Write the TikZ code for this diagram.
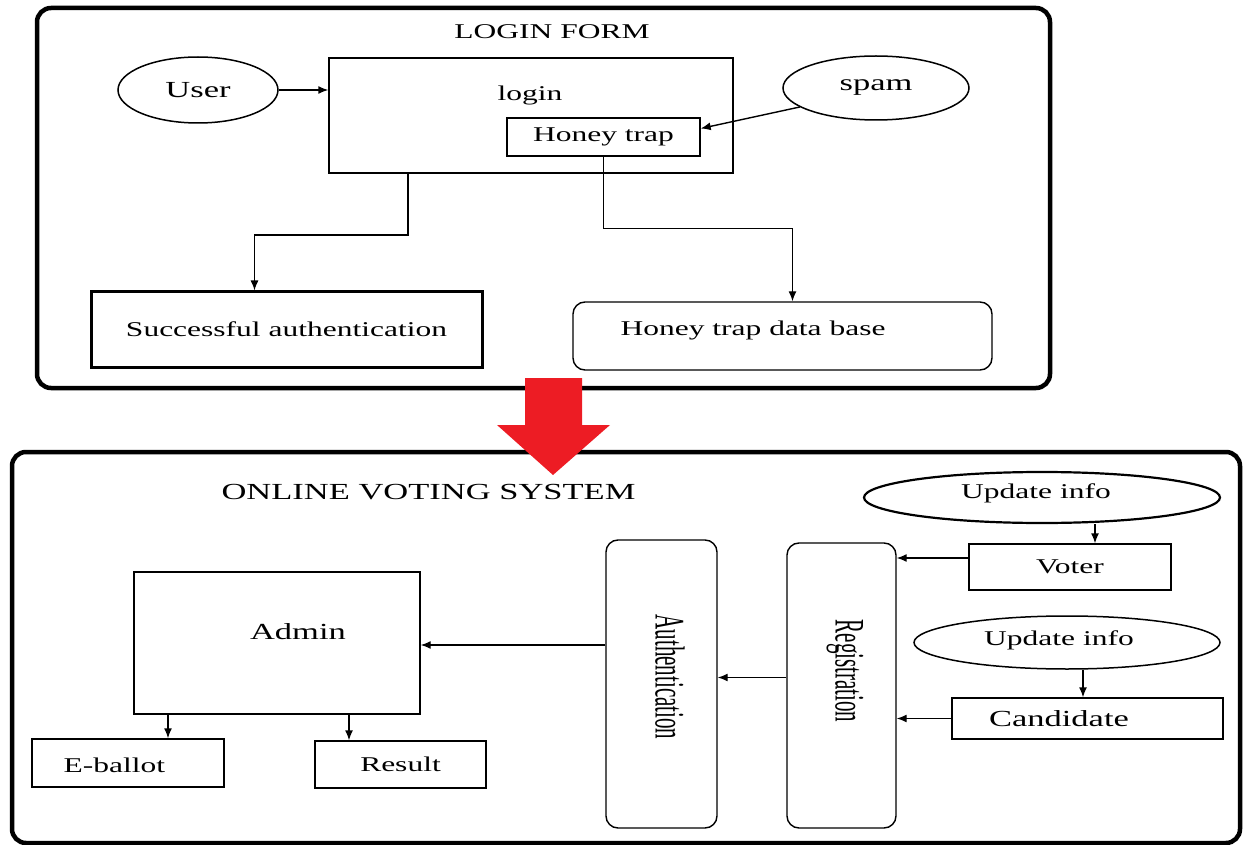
\documentclass[tikz,border=0pt]{standalone}
\usepackage{fontspec}
\setmainfont{Liberation Serif}[FakeStretch=1.5]
\newfontfamily\droitfont{Liberation Serif}
\usetikzlibrary{shapes.geometric,arrows.meta}
\definecolor{rouge}{RGB}{237,28,36}
\tikzset{
  >={Latex[length=10pt,width=8pt]},
  cadre/.style={draw,line width=4.5pt,rounded corners=14pt},
  boite/.style={draw,line width=1.4pt,inner sep=0pt},
  bulle/.style={draw,ellipse,line width=1.5pt,inner sep=0pt},
  fleche/.style={->,line width=1.4pt},
  txt/.style={font=\fontsize{21}{25}\selectfont},
  grand/.style={font=\fontsize{23}{27}\selectfont},
}
\begin{document}
\begin{tikzpicture}[x=1pt,y=-1pt]
\useasboundingbox (0,0) rectangle (1243,845);
% formulaire de connexion
\draw[cadre] (37,8) rectangle (1050,388);
\node[txt] (titre1) at (552,32) {LOGIN FORM};
\node[bulle,grand,minimum width=160pt,minimum height=66pt] (user) at (198,90) {User};
\node[boite,minimum width=404pt,minimum height=115pt] (login) at (531,115.5) {};
\node[txt] (logintxt) at (530,95) {login};
\node[boite,txt,minimum width=193pt,minimum height=38pt] (trap) at (603.5,137) {Honey trap};
\node[bulle,grand,minimum width=186pt,minimum height=64pt] (spam) at (876,88) {spam};
\node[boite,line width=3pt,txt,minimum width=391pt,minimum height=75pt] (succ) at (286.5,329.5) {Successful authentication};
\node[boite,rounded corners=12pt,minimum width=419pt,minimum height=68pt] (htdb) at (782.5,336) {};
\node[txt,anchor=west] (htdbtxt) at (617,330) {Honey trap data base};
\coordinate (c1) at (408,235);
\draw[fleche] (user.east) -- (user.east -| login.west);
\draw[fleche] (spam.194) -- (trap.5);
\draw[fleche] (login.south -| c1) -- (c1) -| ([xshift=-32pt]succ.north);
\draw[fleche] (trap.south) -- ++(0,72) -| ([xshift=10pt]htdb.north);
% systeme de vote
\draw[cadre] (12,452) rectangle (1240,843);
\fill[rouge] (525,378) -- (582,378) -- (582,425) -- (610,425) -- (553,475) -- (497,425) -- (525,425) -- cycle;
\node[grand,anchor=west] (titre2) at (218,492) {ONLINE VOTING SYSTEM};
\node[boite,minimum width=286pt,minimum height=142pt] (admin) at (277,643) {};
\node[grand] (admintxt) at (298,632) {Admin};
\node[boite,minimum width=192pt,minimum height=48pt] (eballot) at (128,763) {};
\node[txt,anchor=west] (eballottxt) at (60,765) {E-ballot};
\node[boite,txt,minimum width=171pt,minimum height=47pt] (result) at (400.5,764.5) {Result};
\node[boite,rounded corners=12pt,minimum width=111pt,minimum height=288pt] (auth) at (661.5,684) {};
\node[rotate=-90] (authtxt) at (670,677) {\scalebox{1}[2]{\droitfont\fontsize{21}{25}\selectfont Authentication}};
\node[boite,rounded corners=12pt,minimum width=109pt,minimum height=285pt] (regis) at (841.5,685.5) {};
\node[rotate=-90] (registxt) at (845,671) {\scalebox{1}[2]{\droitfont\fontsize{21}{25}\selectfont Registration}};
\node[bulle,line width=2.2pt,minimum width=356pt,minimum height=51pt] (up1) at (1042,497.5) {};
\node[txt] (up1txt) at (1036,493) {Update info};
\node[boite,txt,minimum width=202pt,minimum height=46pt] (voter) at (1070,567) {Voter};
\node[bulle,minimum width=306pt,minimum height=53pt] (up2) at (1067,642.5) {};
\node[txt] (up2txt) at (1059,640) {Update info};
\node[boite,minimum width=271pt,minimum height=41pt] (cand) at (1087.5,718.5) {};
\node[grand] (candtxt) at (1059,719) {Candidate};
\draw[fleche] ([xshift=53pt]up1.south) -- ([xshift=53pt]up1.south |- voter.north);
\draw[fleche] ([xshift=16pt]up2.south) -- ([xshift=16pt]up2.south |- cand.north);
\draw[fleche] ([yshift=9pt]voter.west) -- ([yshift=9pt]voter.west -| regis.east);
\draw[fleche] (cand.west) -- (cand.west -| regis.east);
\draw[fleche] ([yshift=8pt]regis.west) -- ([yshift=8pt]regis.west -| auth.east);
\draw[fleche] ([yshift=39pt]auth.west) -- ([yshift=39pt]auth.west -| admin.east);
\draw[fleche] ([xshift=-109pt]admin.south) -- ([xshift=-109pt]admin.south |- eballot.north);
\draw[fleche] ([xshift=72pt]admin.south) -- ([xshift=72pt]admin.south |- result.north);
\end{tikzpicture}
\end{document}
